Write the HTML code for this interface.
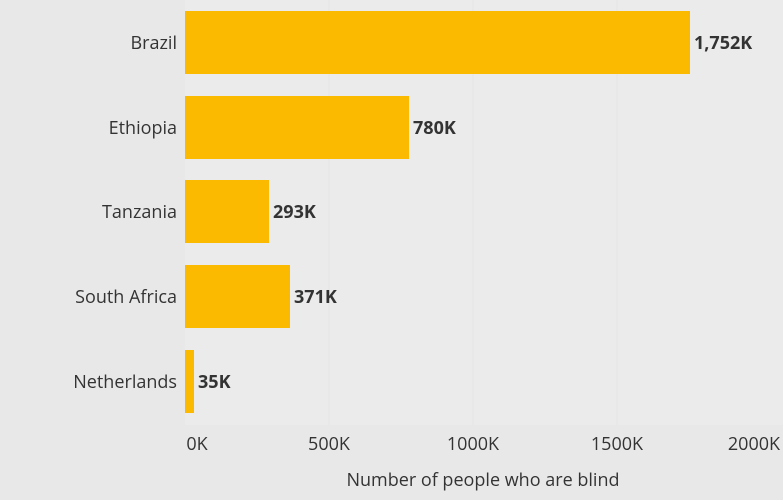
<!DOCTYPE html>
<html><head><style>
body{margin:0;background:#e8e8e8;font-family:"Open Sans","DejaVu Sans","Liberation Sans",sans-serif;}
</style></head><body>
<svg width="783" height="500" xmlns="http://www.w3.org/2000/svg" style="display:block">
<rect width="783" height="500" fill="#e8e8e8"/>
<rect x="185" y="0" width="598" height="425" fill="#ebebeb"/>
<g stroke="#e4e4e4" stroke-width="1">
<line x1="329" y1="0" x2="329" y2="425"/><line x1="473" y1="0" x2="473" y2="425"/><line x1="617" y1="0" x2="617" y2="425"/>
</g>
<g fill="#fbb900">
<rect x="185" y="11" width="505" height="63"/>
<rect x="185" y="96" width="224" height="63"/>
<rect x="185" y="180" width="84" height="63"/>
<rect x="185" y="265" width="105" height="63"/>
<rect x="185" y="350" width="9" height="63"/>
</g>
<g font-size="18" fill="#333" text-anchor="end">
<text x="177" y="49">Brazil</text>
<text x="177" y="134">Ethiopia</text>
<text x="177" y="218">Tanzania</text>
<text x="177" y="303">South Africa</text>
<text x="177" y="388">Netherlands</text>
</g>
<g font-size="18" fill="#333" font-weight="bold">
<text x="694" y="49">1,752K</text>
<text x="413" y="134">780K</text>
<text x="273" y="218">293K</text>
<text x="294" y="303">371K</text>
<text x="198" y="388">35K</text>
</g>
<g font-size="18" fill="#333" text-anchor="middle">
<text x="197" y="450">0K</text>
<text x="329" y="450">500K</text>
<text x="473" y="450">1000K</text>
<text x="617" y="450">1500K</text>
<text x="754" y="450">2000K</text>
<text x="483" y="486">Number of people who are blind</text>
</g>
</svg>
</body></html>
